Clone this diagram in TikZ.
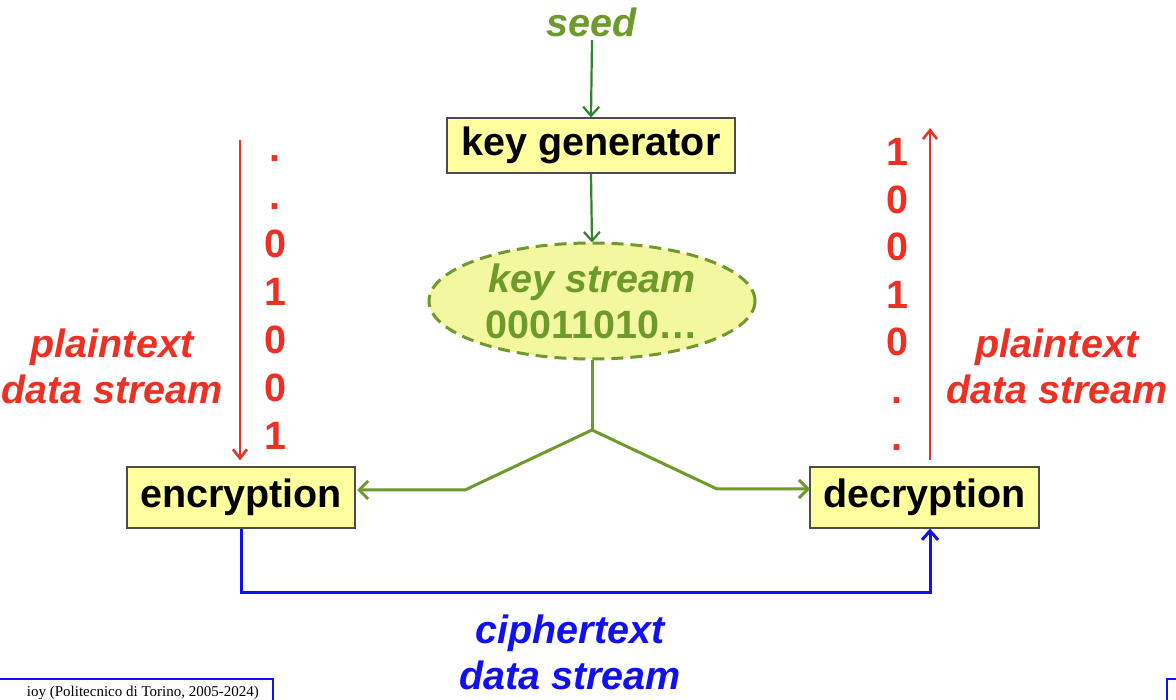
\documentclass[tikz,border=0pt]{standalone}
\usepackage{fontspec}
\setmainfont{Liberation Sans}
\newfontfamily\footfont{Liberation Serif}
\usetikzlibrary{arrows.meta,shapes.geometric}
\definecolor{olive}{RGB}{110,154,44}
\definecolor{dgreen}{RGB}{52,130,48}
\definecolor{pred}{RGB}{236,48,36}
\definecolor{pblue}{RGB}{16,16,240}
\definecolor{boxfill}{RGB}{255,255,160}
\definecolor{ellfill}{RGB}{243,247,160}
\tikzset{
  big/.style={font=\fontsize{39.5}{46}\selectfont\bfseries},
  bigit/.style={font=\fontsize{39.5}{46}\selectfont\bfseries\itshape},
  yellowbox/.style={draw=black!70, line width=1.2pt, fill=boxfill, inner sep=0pt, big, text=black},
  digit/.style={big, text=pred, inner sep=0pt, anchor=base},
  garrow/.style={draw=dgreen, line width=2.2pt, -{Straight Barb[length=9pt,width=16pt,line width=2.2pt]}},
  oarrow/.style={draw=olive, line width=3pt, -{Straight Barb[length=9pt,width=18pt,line width=3pt]}},
  rarrow/.style={draw=pred, line width=2.8pt, -{Straight Barb[length=9pt,width=14pt,line width=2.6pt]}},
  barrow/.style={draw=pblue, line width=3pt, -{Straight Barb[length=9pt,width=16pt,line width=3pt]}},
}
\begin{document}
\begin{tikzpicture}[x=1pt,y=-1pt]
\clip (0,0) rectangle (1176,700);
\fill[white] (0,0) rectangle (1176,700);

\node[bigit, text=olive] (seed) at (592,22) {seed};
\node[yellowbox, minimum width=288pt, minimum height=55pt] (keygen) at (591,145.5) {key generator};
\node[ellipse, draw=olive, dashed, dash pattern=on 12pt off 7pt, line width=3pt, fill=ellfill,
      minimum width=326pt, minimum height=116pt, inner sep=0pt, align=center, text=olive,
      font=\fontsize{39.5}{46}\selectfont\bfseries] (ks) at (592,301)
      {\itshape key stream\\00011010…};
\node[yellowbox, minimum width=228pt, minimum height=61pt] (enc) at (241,497.5) {encryption};
\node[yellowbox, minimum width=229pt, minimum height=61pt] (dec) at (924.5,497.5) {decryption};

% seed and key generator arrows
\coordinate (seedbot) at (592,40);
\draw[garrow] (seedbot) -- (keygen.north);
\draw[garrow] (keygen.south) -- ([yshift=-1pt]ks.north);

% split of the key stream
\coordinate (split) at (592,430);
\coordinate (lk) at (465,490);
\coordinate (rk) at (717,489);
\coordinate (lend) at (357,490);
\coordinate (rend) at (810,489);
\draw[draw=olive, line width=3pt] (ks.south) -- (split);
\draw[oarrow] (split) -- (lk) -- (lend);
\draw[oarrow] (split) -- (rk) -- (rend);

% plaintext in
\coordinate (lin) at (240,140);
\draw[rarrow] (lin) -- ([yshift=6pt]enc.north -| lin);
\foreach \t [count=\i] in {.,.,0,1,0,0,1}{
  \node[digit] (ld\i) at (275,{114+48*\i}) {\t};
}
\node[bigit, text=pred, align=center] (lplain) at (112,366) {plaintext\\data stream};

% plaintext out
\coordinate (rout) at (930,128);
\draw[rarrow] ([yshift=6pt]dec.north -| rout) -- (rout);
\foreach \t [count=\i] in {1,0,0,1,0,.,.}{
  \node[digit] (rd\i) at (897,{118.5+47.5*\i}) {\t};
}
\node[bigit, text=pred, align=center] (rplain) at (1057,366) {plaintext\\data stream};

% ciphertext
\coordinate (cl) at (241,592);
\coordinate (cr) at (930,592);
\draw[barrow] (enc.south) -- (cl) -- (cr) -- (dec.south -| cr);
\node[bigit, text=pblue, align=center] (ciph) at (570,652) {ciphertext\\data stream};

% footer fragments
\draw[draw=pblue, line width=1.5pt] (-2,679) -- (273,679) -- (273,702);
\node[font=\footfont\fontsize{15}{17}\selectfont, anchor=base east, inner sep=0pt] (foot) at (259,696) {ioy (Politecnico di Torino, 2005-2024)};
\draw[draw=pblue, line width=1.5pt] (1167,702) -- (1167,679) -- (1180,679);
\end{tikzpicture}
\end{document}
